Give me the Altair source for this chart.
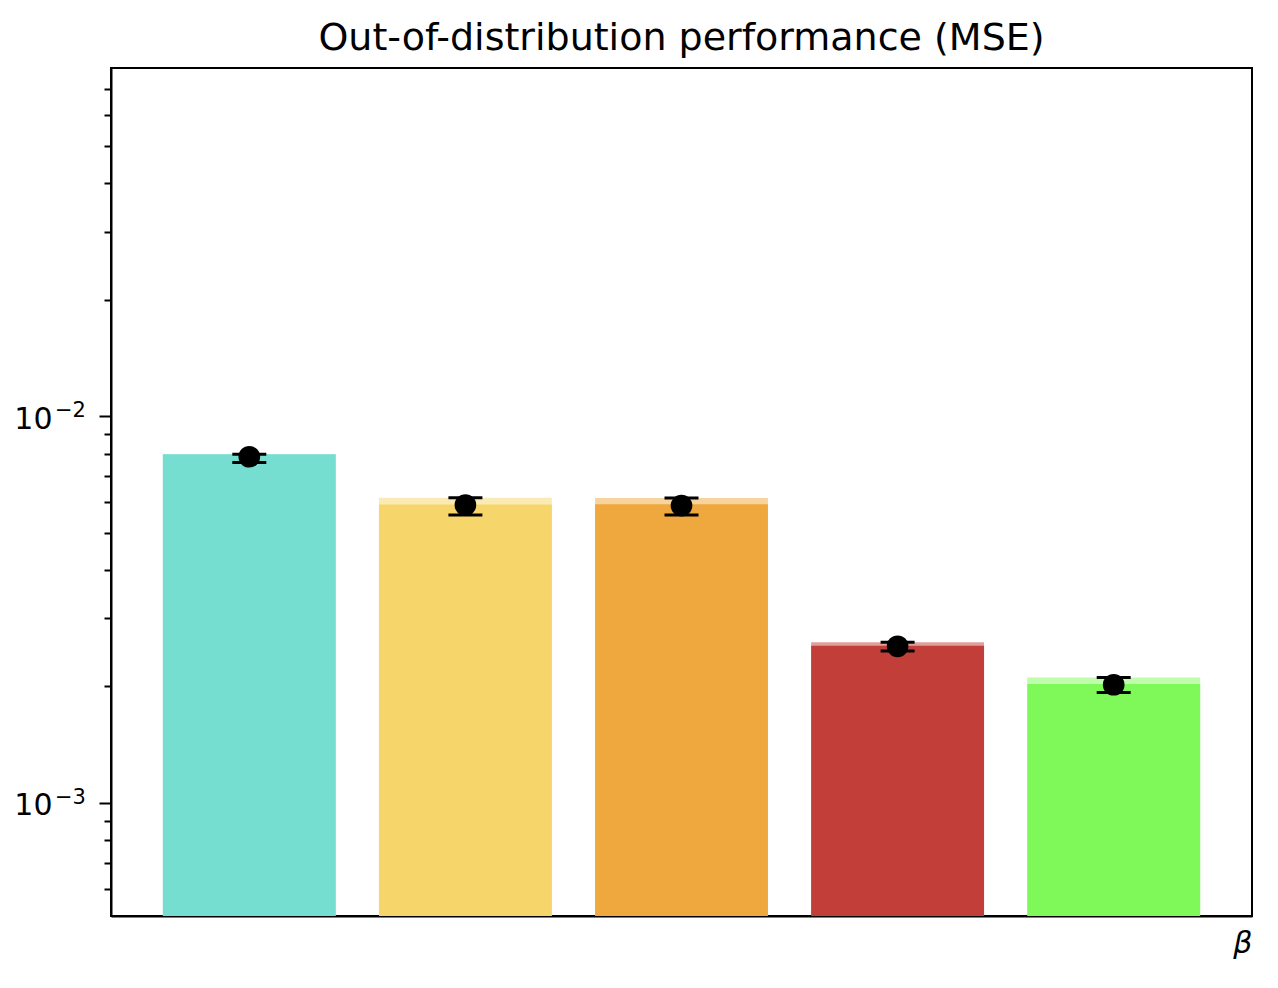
import altair as alt
import pandas as pd

# Data (MSE, log scale)
groups = ["g1", "g2", "g3", "g4", "g5"]
positions = [0, 1, 2, 3, 4]
bar_values = [0.00797, 0.00591, 0.00592, 0.00255, 0.00203]
mean_values = [0.00785, 0.00589, 0.00587, 0.00254, 0.00202]
err_low = [0.00759, 0.00555, 0.00555, 0.00247, 0.00193]
err_high = [0.00797, 0.00615, 0.00614, 0.00260, 0.00211]
colors = ["#76DED1", "#F6D56A", "#EFA83D", "#C13F38", "#7FF95A"]

minor_ticks = [5e-4, 6e-4, 7e-4, 8e-4, 9e-4,
               2e-3, 3e-3, 4e-3, 5e-3, 6e-3, 7e-3, 8e-3, 9e-3,
               2e-2, 3e-2, 4e-2, 5e-2, 6e-2, 7e-2, 8e-2]
major_ticks = [1e-3, 1e-2]
major_exponents = ["−3", "−2"]

Y_DOMAIN = [5.1e-4, 0.0794]
X_DOMAIN = [-0.64, 4.64]
BAR_HALF = 0.4

df = pd.DataFrame({
    "group": groups,
    "pos": positions,
    "bar": bar_values,
    "mean": mean_values,
    "lo": err_low,
    "hi": err_high,
})
exp_df = pd.DataFrame({"v": major_ticks, "e": major_exponents})

color_scale = alt.Scale(domain=groups, range=colors)
xscale = alt.Scale(domain=X_DOMAIN, nice=False, zero=False)
yscale = alt.Scale(type="log", domain=Y_DOMAIN, nice=False)

is_major = "abs(log(datum.value)/LN10 - round(log(datum.value)/LN10)) < 0.001"

x_axis = alt.Axis(labels=False, ticks=False, grid=False, title="β",
                  titleAnchor="end", titleFontStyle="italic", titleFontWeight="normal",
                  titleFontSize=30, titleFont="DejaVu Sans", titlePadding=12,
                  titleColor="black", domainColor="black", domainWidth=2)
y_axis = alt.Axis(values=sorted(major_ticks + minor_ticks), grid=False, title=None,
                  labelExpr=f"({is_major}) ? '10' : ''",
                  tickSize={"condition": {"test": is_major, "value": 12}, "value": 7},
                  tickWidth=2, tickColor="black", labelFontSize=30, labelFont="DejaVu Sans",
                  labelColor="black", labelPadding=47, labelOffset=3,
                  domainColor="black", domainWidth=2,
                  labelFlush=False, labelOverlap=False)

base = alt.Chart(df).transform_calculate(
    x0=f"datum.pos - {BAR_HALF}", x1=f"datum.pos + {BAR_HALF}"
)

light = base.mark_bar(opacity=0.5).encode(
    x=alt.X("x0:Q", scale=xscale, axis=x_axis),
    x2="x1:Q",
    y=alt.Y("hi:Q", scale=yscale, axis=y_axis),
    y2=alt.datum(Y_DOMAIN[0]),
    color=alt.Color("group:N", scale=color_scale, legend=None),
)

main = base.mark_bar(opacity=1).encode(
    x=alt.X("x0:Q", scale=xscale),
    x2="x1:Q",
    y=alt.Y("bar:Q", scale=yscale),
    y2=alt.datum(Y_DOMAIN[0]),
    color=alt.Color("group:N", scale=color_scale, legend=None),
)

err = base.mark_rule(color="black", strokeWidth=3).encode(
    x=alt.X("pos:Q", scale=xscale),
    y=alt.Y("lo:Q", scale=yscale),
    y2="hi:Q",
)

cap_lo = base.mark_tick(color="black", opacity=1, orient="horizontal", size=34, thickness=3).encode(
    x=alt.X("pos:Q", scale=xscale),
    y=alt.Y("lo:Q", scale=yscale),
)
cap_hi = base.mark_tick(color="black", opacity=1, orient="horizontal", size=34, thickness=3).encode(
    x=alt.X("pos:Q", scale=xscale),
    y=alt.Y("hi:Q", scale=yscale),
)

dots = base.mark_circle(color="black", opacity=1, size=470).encode(
    x=alt.X("pos:Q", scale=xscale),
    y=alt.Y("mean:Q", scale=yscale),
)

exponents = alt.Chart(exp_df).mark_text(
    align="left", baseline="top", fontSize=21, font="DejaVu Sans", color="black", dy=-16
).encode(
    x=alt.value(-56),
    y=alt.Y("v:Q", scale=yscale),
    text="e:N",
)

chart = alt.layer(light, main, err, cap_lo, cap_hi, dots, exponents).properties(
    width=1141,
    height=848,
    background="white",
    title=alt.TitleParams("Out-of-distribution performance (MSE)", fontSize=38,
                          font="DejaVu Sans", fontWeight="normal", color="black",
                          anchor="middle", offset=10),
    autosize=alt.AutoSizeParams(type="none"),
    padding={"left": 103, "top": 60, "right": 18, "bottom": 60},
).configure_view(stroke="black", strokeWidth=2)

chart.save("out.html", embed_options={"renderer": "svg", "actions": False})
